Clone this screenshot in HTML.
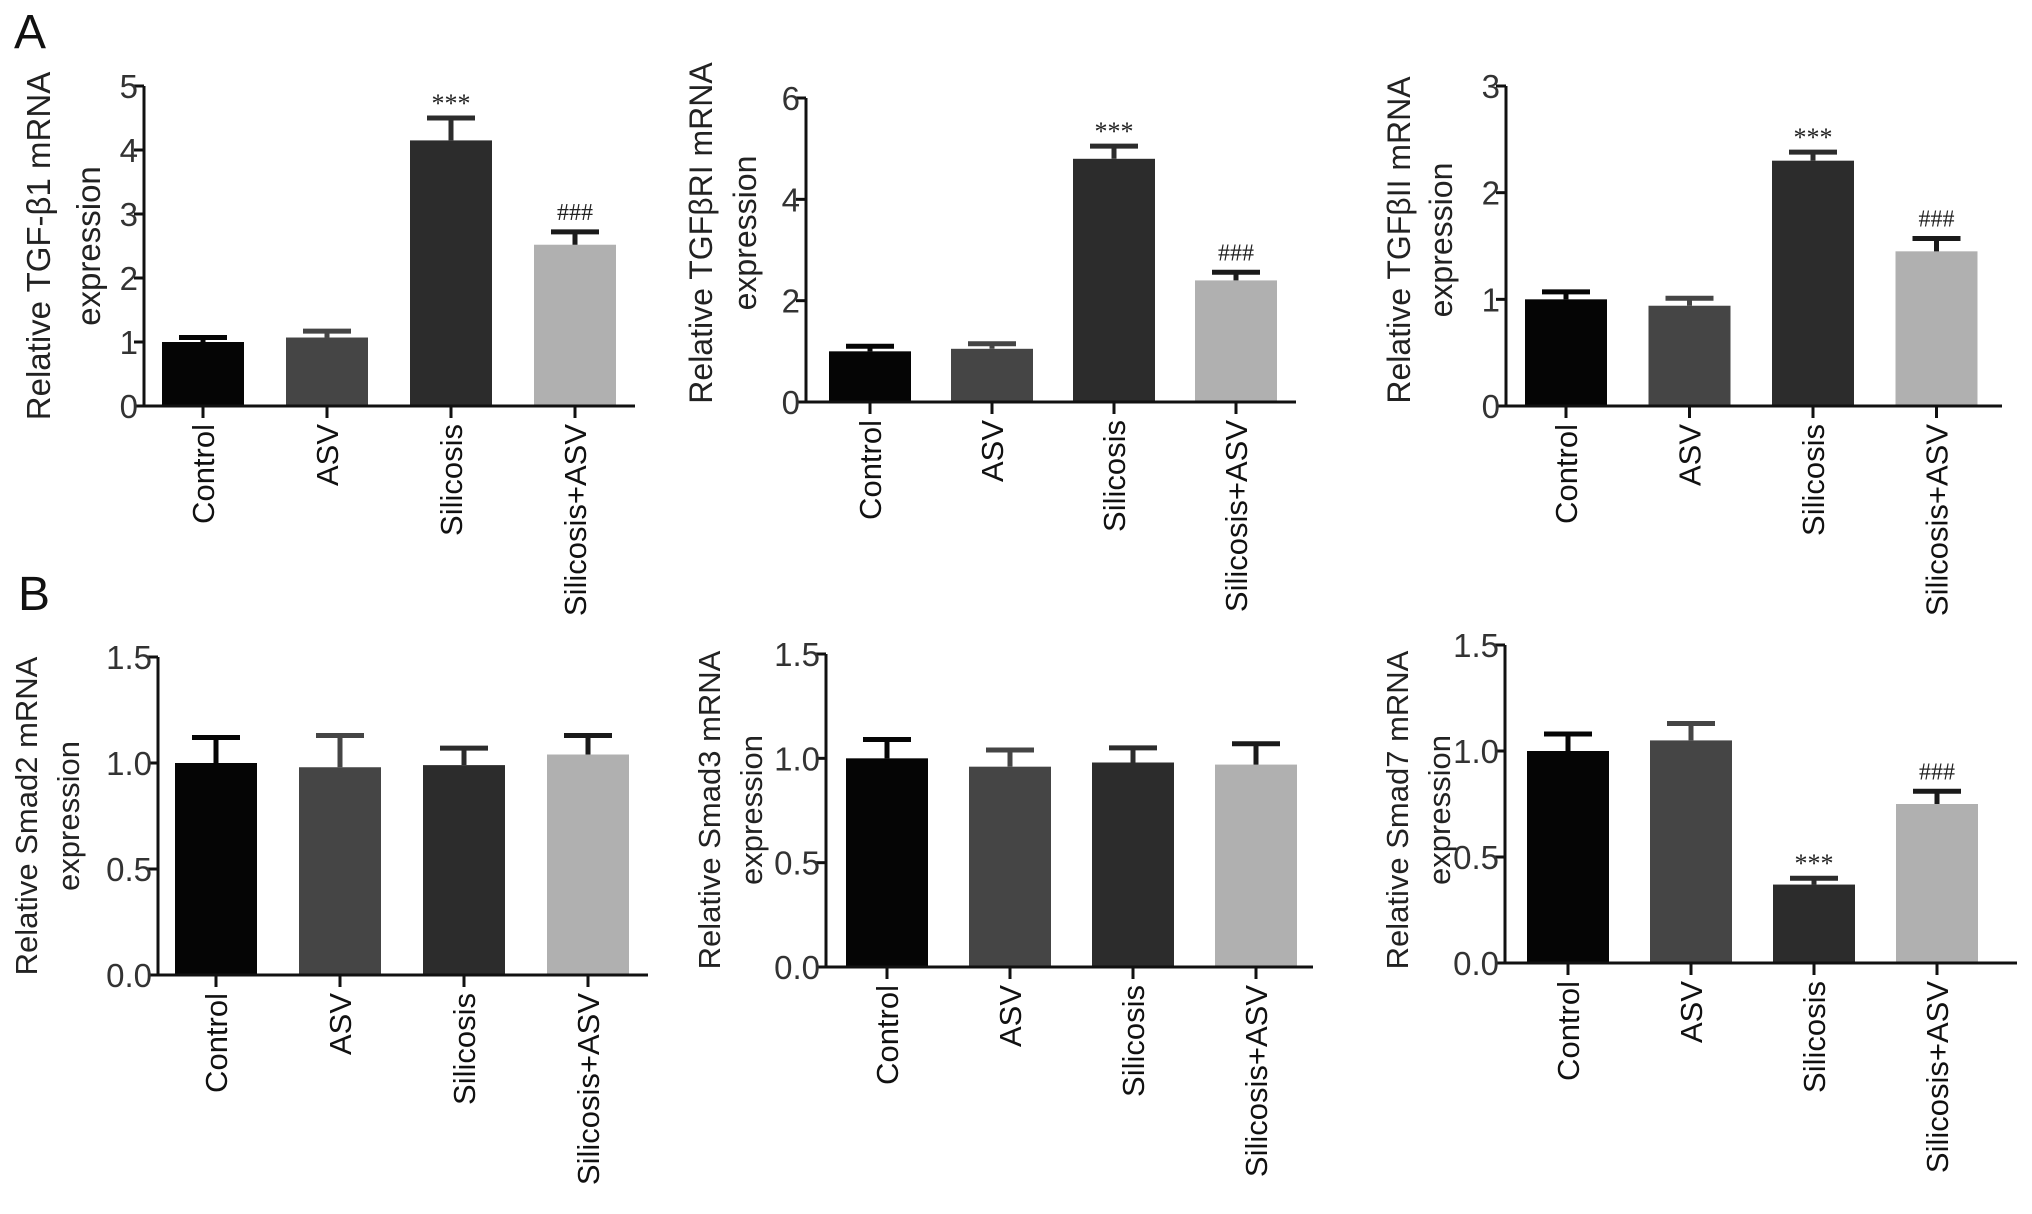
<!DOCTYPE html>
<html><head><meta charset="utf-8"><style>
html,body{margin:0;padding:0;background:#fff;}
svg{display:block;font-family:"Liberation Sans",Arial,sans-serif;}
</style></head><body>
<svg id="fig" width="2032" height="1214" viewBox="0 0 2032 1214" xmlns="http://www.w3.org/2000/svg">
<text x="14" y="48" font-size="48" fill="#111">A</text>
<text x="18" y="610" font-size="48" fill="#111">B</text>
</svg>
<script>
const categories = ["Control","ASV","Silicosis","Silicosis+ASV"];
const tgfb1Values = [1.0, 1.07, 4.15, 2.52];
const tgfb1Errors = [0.07, 0.10, 0.35, 0.20];
const tgfbr1Values = [1.0, 1.05, 4.8, 2.4];
const tgfbr1Errors = [0.10, 0.10, 0.25, 0.16];
const tgfbr2Values = [1.0, 0.94, 2.3, 1.45];
const tgfbr2Errors = [0.07, 0.07, 0.08, 0.12];
const smad2Values = [1.0, 0.98, 0.99, 1.04];
const smad2Errors = [0.12, 0.15, 0.08, 0.09];
const smad3Values = [1.0, 0.96, 0.98, 0.97];
const smad3Errors = [0.09, 0.08, 0.07, 0.10];
const smad7Values = [1.0, 1.05, 0.37, 0.75];
const smad7Errors = [0.08, 0.08, 0.03, 0.06];
const tgfb1Ticks = [0,1,2,3,4,5];
const tgfbr1Ticks = [0,2,4,6];
const tgfbr2Ticks = [0,1,2,3];
const smadTicks = [0.0,0.5,1.0,1.5];
const tgfb1Marks = ["","","***","###"];
const tgfbr1Marks = ["","","***","###"];
const tgfbr2Marks = ["","","***","###"];
const smad2Marks = ["","","",""];
const smad3Marks = ["","","",""];
const smad7Marks = ["","","***","###"];
const colors = ["#050505","#454545","#2c2c2c","#b0b0b0"];

const NS="http://www.w3.org/2000/svg";
const svg=document.getElementById('fig');
function mk(tag,attrs,parent){const e=document.createElementNS(NS,tag);for(const k in attrs)e.setAttribute(k,attrs[k]);(parent||svg).appendChild(e);return e;}

const panels=[
 {id:"tgfb1",vals:tgfb1Values,errs:tgfb1Errors,ticks:tgfb1Ticks,marks:tgfb1Marks,ax:144,yt:86,yb:406,x0:162,step:124,end:635,dec:0,t1:"Relative TGF-β1 mRNA",t2:"expression",tx:50,ty:246,sp:50,fs:33},
 {id:"tgfbr1",vals:tgfbr1Values,errs:tgfbr1Errors,ticks:tgfbr1Ticks,marks:tgfbr1Marks,ax:806,yt:98,yb:402,x0:829,step:122,end:1296,dec:0,t1:"Relative TGFβRI mRNA",t2:"expression",tx:712,ty:233,sp:44,fs:32},
 {id:"tgfbr2",vals:tgfbr2Values,errs:tgfbr2Errors,ticks:tgfbr2Ticks,marks:tgfbr2Marks,ax:1506,yt:86,yb:406,x0:1525,step:123.5,end:2002,dec:0,t1:"Relative TGFβII mRNA",t2:"expression",tx:1410,ty:240,sp:42,fs:32},
 {id:"smad2",vals:smad2Values,errs:smad2Errors,ticks:smadTicks,marks:smad2Marks,ax:158,yt:657,yb:975,x0:175,step:124,end:648,dec:1,t1:"Relative Smad2 mRNA",t2:"expression",tx:37,ty:816,sp:42,fs:31},
 {id:"smad3",vals:smad3Values,errs:smad3Errors,ticks:smadTicks,marks:smad3Marks,ax:826,yt:654,yb:967,x0:846,step:123,end:1313,dec:1,t1:"Relative Smad3 mRNA",t2:"expression",tx:720,ty:810,sp:42,fs:31},
 {id:"smad7",vals:smad7Values,errs:smad7Errors,ticks:smadTicks,marks:smad7Marks,ax:1505,yt:645,yb:963,x0:1527,step:123,end:2017,dec:1,t1:"Relative Smad7 mRNA",t2:"expression",tx:1408,ty:810,sp:42,fs:31}
];
const barW=82;
panels.forEach(p=>{
  const g=mk('g',{});
  
  
  const tmax=p.ticks[p.ticks.length-1];
  const y=v=>p.yb-(v/tmax)*(p.yb-p.yt);
  p.vals.forEach((v,i)=>{
    const x=p.x0+i*p.step, cx=x+barW/2;
    const r=mk('rect',{x:x,y:y(v),width:barW,height:p.yb-y(v),fill:colors[i]},g);
    
    
    const ye=y(v+p.errs[i]);
    const e=mk('path',{d:`M${cx} ${y(v)}V${ye}M${cx-24} ${ye}H${cx+24}`,stroke:colors[i]==="#b0b0b0"?"#1a1a1a":colors[i],"stroke-width":5,fill:"none"},g);
    
    
    if(p.marks[i]){
      const m=mk('text',{x:cx,y:ye-(p.marks[i]==="***"?6:12),"text-anchor":"middle","font-size":p.marks[i]==="***"?26:24,fill:"#222","font-family":"Liberation Serif,serif"},g);
      m.textContent=p.marks[i];
      
      
    }
    mk('line',{x1:cx,x2:cx,y1:p.yb,y2:p.yb+12,stroke:"#111","stroke-width":3},g);
    const t=mk('text',{transform:`translate(${cx+11},${p.yb+18}) rotate(-90)`,"text-anchor":"end","font-size":31,fill:"#111"},g);
    t.textContent=categories[i];
    
    
  });
  const a=mk('path',{d:`M${p.ax} ${p.yt}V${p.yb}H${p.end}`,stroke:"#111","stroke-width":3,fill:"none"},g);
  
  
  p.ticks.forEach(tv=>{
    mk('line',{x1:p.ax-10,x2:p.ax,y1:y(tv),y2:y(tv),stroke:"#111","stroke-width":3},g);
    const t=mk('text',{x:p.ax-6,y:y(tv)+12,"text-anchor":"end","font-size":33,fill:"#333"},g);
    t.textContent=tv.toFixed(p.dec);
    
    
  });
  const t1=mk('text',{transform:`translate(${p.tx},${p.ty}) rotate(-90)`,"text-anchor":"middle","font-size":p.fs,fill:"#222"},g);
  t1.textContent=p.t1;
  
  
  const t2=mk('text',{transform:`translate(${p.tx+p.sp},${p.ty}) rotate(-90)`,"text-anchor":"middle","font-size":p.fs,fill:"#222"},g);
  t2.textContent=p.t2;
  
  
});
</script>
</body></html>
